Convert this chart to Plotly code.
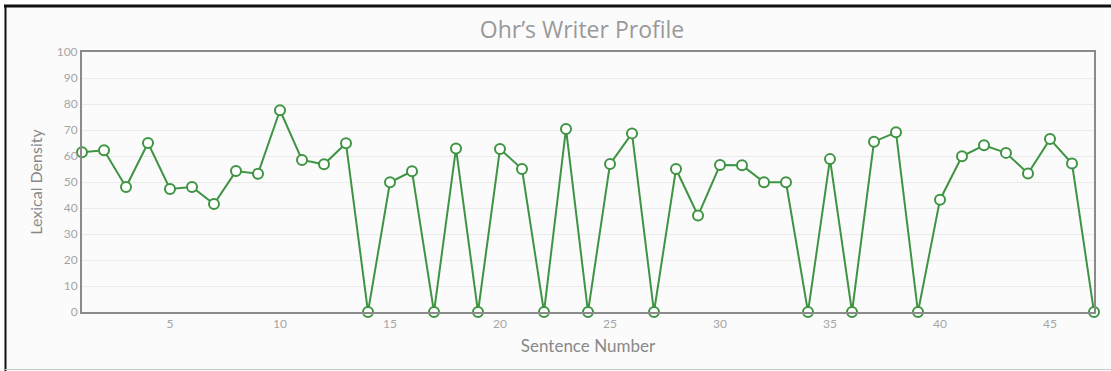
import plotly.graph_objects as go

# Lexical density per sentence
sentence = list(range(1, 48))
density = [61.4, 62.2, 48.1, 65.0, 47.3, 48.1, 41.5, 54.2, 53.2, 77.6,
           58.5, 56.8, 64.9, 0, 49.9, 54.1, 0, 62.9, 0, 62.7,
           55.0, 0, 70.4, 0, 56.9, 68.7, 0, 55.0, 37.1, 56.5,
           56.4, 49.9, 49.9, 0, 58.8, 0, 65.5, 69.1, 0, 43.2,
           59.9, 64.1, 61.2, 53.3, 66.5, 57.1, 0]
x_ticks = [5, 10, 15, 20, 25, 30, 35, 40, 45]
y_ticks = list(range(0, 101, 10))

W, H = 1111, 371
L, R, T, B = 82, 17, 52, 59
pw, ph = W - L - R, H - T - B


def px(x):
    return (x - L) / pw


def py(y):
    return (H - B - y) / ph


green = "#3f9443"
fig = go.Figure()
fig.add_trace(go.Scatter(
    x=sentence, y=density, mode="lines+markers",
    line=dict(color=green, width=2),
    marker=dict(size=10, color="white", line=dict(color=green, width=2)),
    cliponaxis=False, showlegend=False,
))

shapes = [
    # card background
    dict(type="rect", xref="paper", yref="paper", x0=px(5), x1=px(W + 5),
         y0=py(369), y1=py(6), fillcolor="#fbfbfb", line=dict(width=0), layer="below"),
    # dark frame edges (top and left)
    dict(type="line", xref="paper", yref="paper", x0=px(4), x1=px(W + 5),
         y0=py(6), y1=py(6), line=dict(color="#111", width=3)),
    dict(type="line", xref="paper", yref="paper", x0=px(5.5), x1=px(5.5),
         y0=py(5), y1=py(H + 2), line=dict(color="#111", width=2)),
    # light bottom edge
    dict(type="line", xref="paper", yref="paper", x0=px(5), x1=px(W + 5),
         y0=py(369.5), y1=py(369.5), line=dict(color="#c8c8c8", width=1)),
]

fig.update_layout(
    width=W, height=H,
    margin=dict(l=L, r=R, t=T, b=B),
    paper_bgcolor="white", plot_bgcolor="#fbfbfb",
    shapes=shapes,
    title=dict(text="Ohr’s Writer Profile", xref="container", x=582 / W, xanchor="center",
               yref="container", y=1 - 30 / H, yanchor="middle",
               font=dict(family="Open Sans", size=23, color="#999999")),
    font=dict(family="Lato", color="#a0a0a0"),
)
fig.update_xaxes(
    range=[1, 47], tickvals=x_ticks, showgrid=False, zeroline=False,
    showline=True, linecolor="#8a8a8a", linewidth=2, mirror=True,
    ticks="", tickfont=dict(size=12, color="#a5a5a5"),
    title=dict(text="Sentence Number", font=dict(size=17, color="#888888"), standoff=10),
)
fig.update_yaxes(
    range=[0, 100], tickvals=y_ticks, showgrid=True, gridcolor="#ebebeb", gridwidth=1,
    zeroline=False, showline=True, linecolor="#8a8a8a", linewidth=2, mirror=True,
    ticks="", tickfont=dict(size=12, color="#a5a5a5"),
    title=dict(text="Lexical Density", font=dict(size=16, color="#888888"), standoff=10),
)

fig.write_html("out.html")
